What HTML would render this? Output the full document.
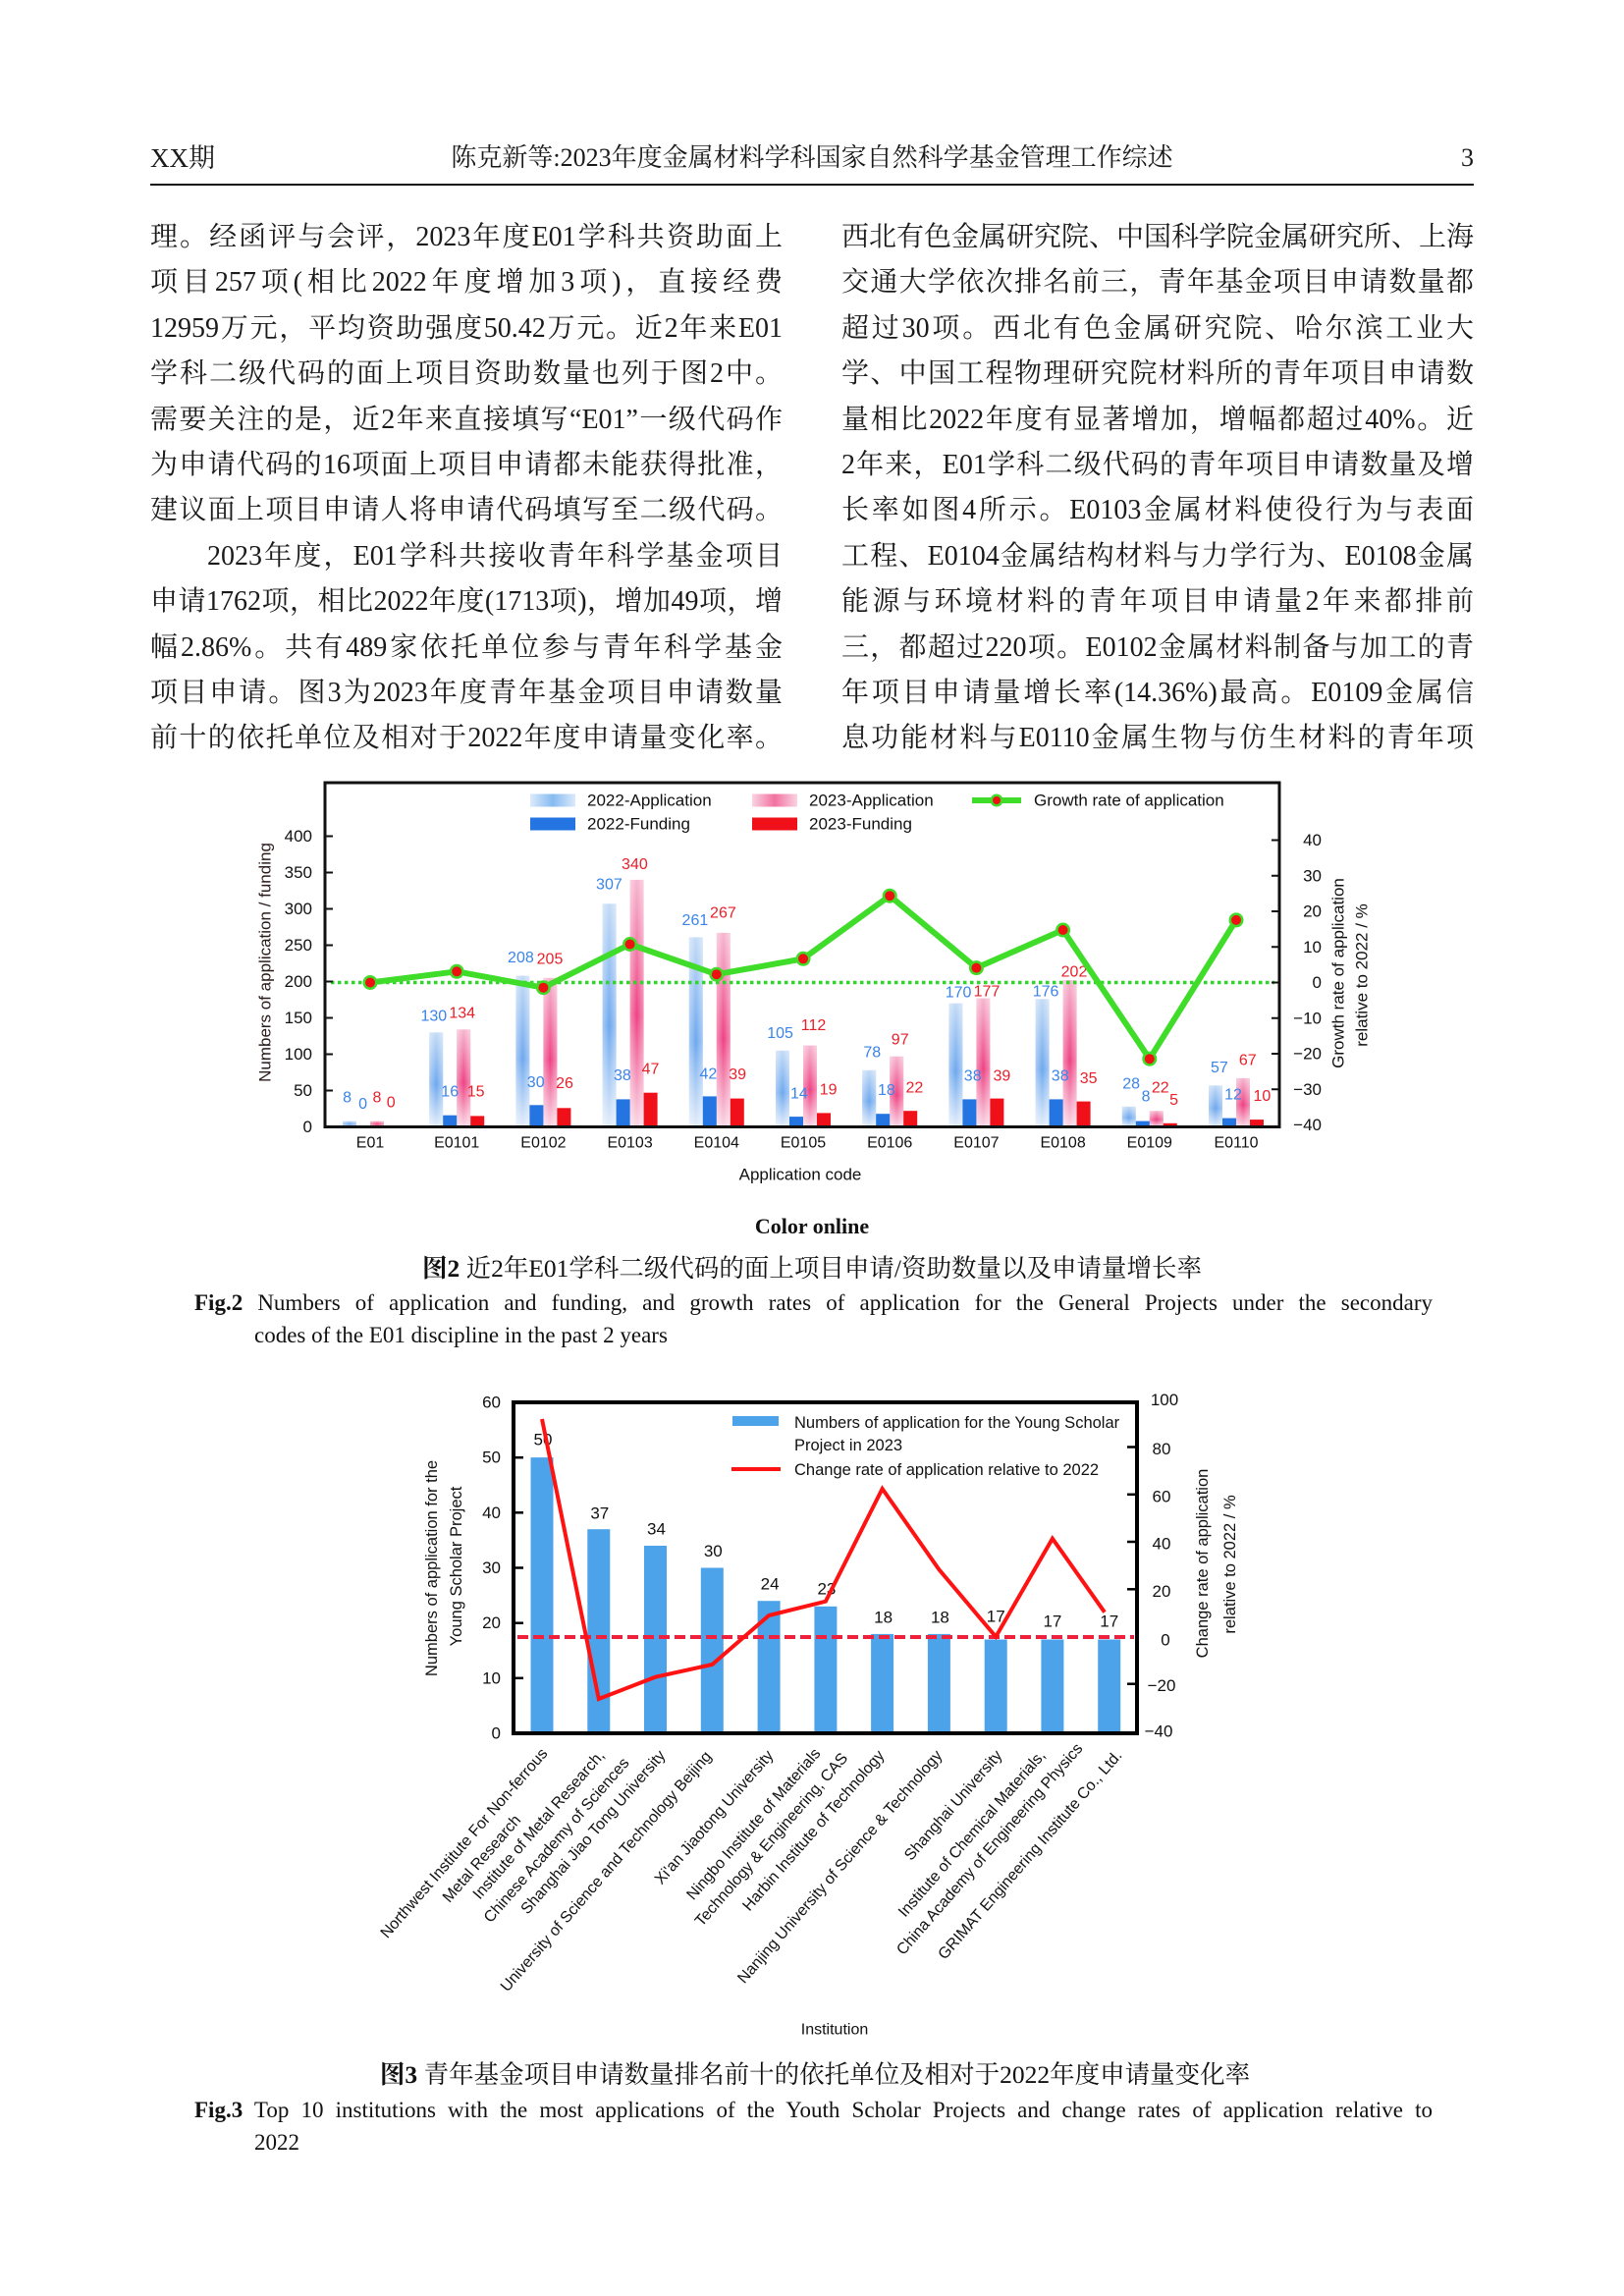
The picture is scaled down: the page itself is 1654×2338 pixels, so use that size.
<!DOCTYPE html>
<html lang="zh-CN"><head><meta charset="utf-8"><title>page</title>
<style>
html,body{margin:0;padding:0;background:#fff;}
#pg{position:relative;width:1654px;height:2338px;overflow:hidden;background:#fff;font-family:"Liberation Serif","Noto Serif CJK SC",serif;color:#1a1a1a;}
.ln{position:absolute;height:40px;line-height:40px;font-size:28px;white-space:nowrap;text-align:justify;text-align-last:justify;}
.c1{left:153px;width:644px}
.c2{left:857px;width:644px}
.hd{position:absolute;top:143px;height:36px;line-height:36px;font-size:26px;white-space:nowrap;}
.cap{position:absolute;white-space:nowrap;font-family:"Liberation Serif","Noto Serif CJK SC",serif;color:#111;}
svg{position:absolute;left:0;top:0}
svg text{font-family:"Liberation Sans",Arial,sans-serif;}
</style></head><body><div id="pg">

<div class="hd" style="left:153px;font-size:27px">XX期</div>
<div class="hd" style="left:153px;width:1348px;text-align:center">陈克新等:2023年度金属材料学科国家自然科学基金管理工作综述</div>
<div class="hd" style="left:1401px;width:100px;text-align:right">3</div>
<div style="position:absolute;left:153px;top:187px;width:1348px;height:2px;background:#111"></div>

<div class="ln c1" style="top:222px">理。经函评与会评，2023年度E01学科共资助面上</div>
<div class="ln c1" style="top:268.4px">项目257项(相比2022年度增加3项)，直接经费</div>
<div class="ln c1" style="top:314.8px">12959万元，平均资助强度50.42万元。近2年来E01</div>
<div class="ln c1" style="top:361.2px">学科二级代码的面上项目资助数量也列于图2中。</div>
<div class="ln c1" style="top:407.6px">需要关注的是，近2年来直接填写“E01”一级代码作</div>
<div class="ln c1" style="top:454px">为申请代码的16项面上项目申请都未能获得批准，</div>
<div class="ln c1" style="top:500.4px">建议面上项目申请人将申请代码填写至二级代码。</div>
<div class="ln" style="top:546.8px;left:211px;width:586px">2023年度，E01学科共接收青年科学基金项目</div>
<div class="ln c1" style="top:593.2px">申请1762项，相比2022年度(1713项)，增加49项，增</div>
<div class="ln c1" style="top:639.6px">幅2.86%。共有489家依托单位参与青年科学基金</div>
<div class="ln c1" style="top:686px">项目申请。图3为2023年度青年基金项目申请数量</div>
<div class="ln c1" style="top:732.4px">前十的依托单位及相对于2022年度申请量变化率。</div>

<div class="ln c2" style="top:222px">西北有色金属研究院、中国科学院金属研究所、上海</div>
<div class="ln c2" style="top:268.4px">交通大学依次排名前三，青年基金项目申请数量都</div>
<div class="ln c2" style="top:314.8px">超过30项。西北有色金属研究院、哈尔滨工业大</div>
<div class="ln c2" style="top:361.2px">学、中国工程物理研究院材料所的青年项目申请数</div>
<div class="ln c2" style="top:407.6px">量相比2022年度有显著增加，增幅都超过40%。近</div>
<div class="ln c2" style="top:454px">2年来，E01学科二级代码的青年项目申请数量及增</div>
<div class="ln c2" style="top:500.4px">长率如图4所示。E0103金属材料使役行为与表面</div>
<div class="ln c2" style="top:546.8px">工程、E0104金属结构材料与力学行为、E0108金属</div>
<div class="ln c2" style="top:593.2px">能源与环境材料的青年项目申请量2年来都排前</div>
<div class="ln c2" style="top:639.6px">三，都超过220项。E0102金属材料制备与加工的青</div>
<div class="ln c2" style="top:686px">年项目申请量增长率(14.36%)最高。E0109金属信</div>
<div class="ln c2" style="top:732.4px">息功能材料与E0110金属生物与仿生材料的青年项</div>

<!-- captions fig2 -->
<div class="cap" style="left:627px;width:400px;text-align:center;top:1235px;line-height:28px;font-size:22px;font-weight:bold">Color online</div>
<div class="cap" style="left:327px;width:1000px;text-align:center;top:1277px;line-height:30px;font-size:25.5px"><b>图2</b> 近2年E01学科二级代码的面上项目申请/资助数量以及申请量增长率</div>
<div class="cap" style="left:198px;width:1261px;top:1312px;line-height:30px;font-size:23px;text-align:justify;text-align-last:justify"><b>Fig.2</b> Numbers of application and funding, and growth rates of application for the General Projects under the secondary</div>
<div class="cap" style="left:259px;top:1345px;line-height:30px;font-size:23px">codes of the E01 discipline in the past 2 years</div>

<!-- captions fig3 -->
<div class="cap" style="left:230px;width:1200px;text-align:center;top:2098px;line-height:30px;font-size:25.5px"><b>图3</b> 青年基金项目申请数量排名前十的依托单位及相对于2022年度申请量变化率</div>
<div class="cap" style="left:198px;width:1261px;top:2134px;line-height:30px;font-size:23px;text-align:justify;text-align-last:justify"><b>Fig.3</b> Top 10 institutions with the most applications of the Youth Scholar Projects and change rates of application relative to</div>
<div class="cap" style="left:259px;top:2167px;line-height:30px;font-size:23px">2022</div>

<svg width="1654" height="2338" viewBox="0 0 1654 2338" xmlns="http://www.w3.org/2000/svg">
<defs>
<linearGradient id="gB" x1="0" y1="0" x2="0" y2="1">
<stop offset="0" stop-color="#c4dbf6"/><stop offset="0.55" stop-color="#6ea8ee"/><stop offset="1" stop-color="#e4eefb"/>
</linearGradient>
<linearGradient id="gP" x1="0" y1="0" x2="0" y2="1">
<stop offset="0" stop-color="#f6b6cf"/><stop offset="0.55" stop-color="#ee4283"/><stop offset="1" stop-color="#fad9e6"/>
</linearGradient>
<linearGradient id="gH" x1="0" y1="0" x2="1" y2="0">
<stop offset="0" stop-color="#fff" stop-opacity="0.4"/><stop offset="0.5" stop-color="#fff" stop-opacity="0"/><stop offset="1" stop-color="#fff" stop-opacity="0.4"/>
</linearGradient>
<linearGradient id="gBL" x1="0" y1="0" x2="1" y2="0">
<stop offset="0" stop-color="#dbeafb"/><stop offset="0.5" stop-color="#86bbf1"/><stop offset="1" stop-color="#dbeafb"/>
</linearGradient>
<linearGradient id="gPL" x1="0" y1="0" x2="1" y2="0">
<stop offset="0" stop-color="#fad3e2"/><stop offset="0.5" stop-color="#f271a0"/><stop offset="1" stop-color="#fad3e2"/>
</linearGradient>
</defs>

<!-- ================= FIG 2 ================= -->
<g>
<g fill="url(#gB)">
<rect x="349" y="1141.6" width="14" height="5.9"/>
<rect x="437.2" y="1051.3" width="14" height="96.2"/>
<rect x="525.4" y="993.6" width="14" height="153.9"/>
<rect x="613.6" y="920.3" width="14" height="227.2"/>
<rect x="701.8" y="954.4" width="14" height="193.1"/>
<rect x="790" y="1069.8" width="14" height="77.7"/>
<rect x="878.2" y="1089.8" width="14" height="57.7"/>
<rect x="966.4" y="1021.7" width="14" height="125.8"/>
<rect x="1054.6" y="1017.3" width="14" height="130.2"/>
<rect x="1142.8" y="1126.8" width="14" height="20.7"/>
<rect x="1231" y="1105.3" width="14" height="42.2"/>
</g>
<g fill="url(#gP)">
<rect x="377" y="1141.6" width="14" height="5.9"/>
<rect x="465.2" y="1048.3" width="14" height="99.2"/>
<rect x="553.4" y="995.8" width="14" height="151.7"/>
<rect x="641.6" y="895.9" width="14" height="251.6"/>
<rect x="729.8" y="949.9" width="14" height="197.6"/>
<rect x="818" y="1064.6" width="14" height="82.9"/>
<rect x="906.2" y="1075.7" width="14" height="71.8"/>
<rect x="994.4" y="1016.5" width="14" height="131"/>
<rect x="1082.6" y="998" width="14" height="149.5"/>
<rect x="1170.8" y="1131.2" width="14" height="16.3"/>
<rect x="1259" y="1097.9" width="14" height="49.6"/>
</g>
<g fill="url(#gH)">
<rect x="349" y="1141.6" width="14" height="5.9"/>
<rect x="437.2" y="1051.3" width="14" height="96.2"/>
<rect x="525.4" y="993.6" width="14" height="153.9"/>
<rect x="613.6" y="920.3" width="14" height="227.2"/>
<rect x="701.8" y="954.4" width="14" height="193.1"/>
<rect x="790" y="1069.8" width="14" height="77.7"/>
<rect x="878.2" y="1089.8" width="14" height="57.7"/>
<rect x="966.4" y="1021.7" width="14" height="125.8"/>
<rect x="1054.6" y="1017.3" width="14" height="130.2"/>
<rect x="1142.8" y="1126.8" width="14" height="20.7"/>
<rect x="1231" y="1105.3" width="14" height="42.2"/>
<rect x="377" y="1141.6" width="14" height="5.9"/>
<rect x="465.2" y="1048.3" width="14" height="99.2"/>
<rect x="553.4" y="995.8" width="14" height="151.7"/>
<rect x="641.6" y="895.9" width="14" height="251.6"/>
<rect x="729.8" y="949.9" width="14" height="197.6"/>
<rect x="818" y="1064.6" width="14" height="82.9"/>
<rect x="906.2" y="1075.7" width="14" height="71.8"/>
<rect x="994.4" y="1016.5" width="14" height="131"/>
<rect x="1082.6" y="998" width="14" height="149.5"/>
<rect x="1170.8" y="1131.2" width="14" height="16.3"/>
<rect x="1259" y="1097.9" width="14" height="49.6"/>
</g>
<g fill="#2474e2">
<rect x="451.2" y="1135.7" width="14" height="11.8"/>
<rect x="539.4" y="1125.3" width="14" height="22.2"/>
<rect x="627.6" y="1119.4" width="14" height="28.1"/>
<rect x="715.8" y="1116.4" width="14" height="31.1"/>
<rect x="804" y="1137.1" width="14" height="10.4"/>
<rect x="892.2" y="1134.2" width="14" height="13.3"/>
<rect x="980.4" y="1119.4" width="14" height="28.1"/>
<rect x="1068.6" y="1119.4" width="14" height="28.1"/>
<rect x="1156.8" y="1141.6" width="14" height="5.9"/>
<rect x="1245" y="1138.6" width="14" height="8.9"/>
</g>
<g fill="#f0101a">
<rect x="479.2" y="1136.4" width="14" height="11.1"/>
<rect x="567.4" y="1128.3" width="14" height="19.2"/>
<rect x="655.6" y="1112.7" width="14" height="34.8"/>
<rect x="743.8" y="1118.6" width="14" height="28.9"/>
<rect x="832" y="1133.4" width="14" height="14.1"/>
<rect x="920.2" y="1131.2" width="14" height="16.3"/>
<rect x="1008.4" y="1118.6" width="14" height="28.9"/>
<rect x="1096.6" y="1121.6" width="14" height="25.9"/>
<rect x="1184.8" y="1143.8" width="14" height="3.7"/>
<rect x="1273" y="1140.1" width="14" height="7.4"/>
</g>

<g font-size="16" text-anchor="middle" dominant-baseline="central" fill="#3a84ea">
<text x="353.6" y="1117.8">8</text><text x="369.6" y="1124.5">0</text>
<text x="441.8" y="1035.1">130</text><text x="458.2" y="1112.2">16</text>
<text x="530.4" y="975.5">208</text><text x="545.7" y="1102.3">30</text>
<text x="620.4" y="901">307</text><text x="633.9" y="1095.7">38</text>
<text x="707.9" y="937.4">261</text><text x="721.4" y="1094">42</text>
<text x="794.6" y="1052.6">105</text><text x="813.9" y="1113.9">14</text>
<text x="888.3" y="1071.8">78</text><text x="902.9" y="1110.5">18</text>
<text x="976.1" y="1011.1">170</text><text x="990.7" y="1096">38</text>
<text x="1065.1" y="1009.8">176</text><text x="1079.7" y="1096">38</text>
<text x="1152.1" y="1103.9">28</text><text x="1167.1" y="1117.2">8</text>
<text x="1241.9" y="1087.3">57</text><text x="1256" y="1114.8">12</text>
</g>
<g font-size="16" text-anchor="middle" dominant-baseline="central" fill="#e8202a">
<text x="383.9" y="1117.8">8</text><text x="398.2" y="1122.8">0</text>
<text x="470.7" y="1031.8">134</text><text x="484.6" y="1112.2">15</text>
<text x="560" y="977.1">205</text><text x="575" y="1103.6">26</text>
<text x="646.4" y="880.4">340</text><text x="662.5" y="1089">47</text>
<text x="736.4" y="930.1">267</text><text x="751.1" y="1094.7">39</text>
<text x="828.5" y="1044.3">112</text><text x="843.6" y="1109.9">19</text>
<text x="916.7" y="1059.2">97</text><text x="931.4" y="1108.2">22</text>
<text x="1005" y="1009.8">177</text><text x="1020.4" y="1096">39</text>
<text x="1094" y="990">202</text><text x="1108.6" y="1098.3">35</text>
<text x="1181.8" y="1108.2">22</text><text x="1195.6" y="1120.5">5</text>
<text x="1270.8" y="1080">67</text><text x="1285.4" y="1116.5">10</text>
</g>

<line x1="337" y1="1000.5" x2="1298" y2="1000.5" stroke="#2fd62a" stroke-width="3.5" stroke-dasharray="3.5 3.5"/>
<polyline fill="none" stroke="#3fdc2a" stroke-width="6" stroke-linejoin="round" points="377,1000.5 465.2,989.3 553.4,1005.7 641.6,961.5 729.8,992.2 818,976.3 906.2,912.2 994.4,985.6 1082.6,947 1170.8,1078.2 1259,936.9"/>
<g fill="#3fdc2a">
<circle cx="377" cy="1000.5" r="7.5"/><circle cx="465.2" cy="989.3" r="7.5"/><circle cx="553.4" cy="1005.7" r="7.5"/><circle cx="641.6" cy="961.5" r="7.5"/><circle cx="729.8" cy="992.2" r="7.5"/><circle cx="818" cy="976.3" r="7.5"/><circle cx="906.2" cy="912.2" r="7.5"/><circle cx="994.4" cy="985.6" r="7.5"/><circle cx="1082.6" cy="947" r="7.5"/><circle cx="1170.8" cy="1078.2" r="7.5"/><circle cx="1259" cy="936.9" r="7.5"/>
</g>
<g fill="#ee1111">
<circle cx="377" cy="1000.5" r="5"/><circle cx="465.2" cy="989.3" r="5"/><circle cx="553.4" cy="1005.7" r="5"/><circle cx="641.6" cy="961.5" r="5"/><circle cx="729.8" cy="992.2" r="5"/><circle cx="818" cy="976.3" r="5"/><circle cx="906.2" cy="912.2" r="5"/><circle cx="994.4" cy="985.6" r="5"/><circle cx="1082.6" cy="947" r="5"/><circle cx="1170.8" cy="1078.2" r="5"/><circle cx="1259" cy="936.9" r="5"/>
</g>

<rect x="540" y="808.5" width="46" height="13" fill="url(#gBL)"/>
<rect x="540" y="832.5" width="46" height="13" fill="#2474e2"/>
<rect x="766" y="808.5" width="46" height="13" fill="url(#gPL)"/>
<rect x="766" y="832.5" width="46" height="13" fill="#f0101a"/>
<line x1="990" y1="815" x2="1040" y2="815" stroke="#3fdc2a" stroke-width="6"/>
<circle cx="1015" cy="815" r="6.5" fill="#3fdc2a"/><circle cx="1015" cy="815" r="4" fill="#ee1111"/>
<g font-size="17" dominant-baseline="central" fill="#111">
<text x="598" y="815">2022-Application</text>
<text x="598" y="839">2022-Funding</text>
<text x="824" y="815">2023-Application</text>
<text x="824" y="839">2023-Funding</text>
<text x="1053" y="815">Growth rate of application</text>
</g>

<rect x="331" y="797" width="972" height="350.5" fill="none" stroke="#111" stroke-width="3"/>
<g stroke="#111" stroke-width="2">
<line x1="331" y1="1110.5" x2="339" y2="1110.5"/><line x1="331" y1="1073.5" x2="339" y2="1073.5"/><line x1="331" y1="1036.5" x2="339" y2="1036.5"/><line x1="331" y1="999.5" x2="339" y2="999.5"/><line x1="331" y1="962.5" x2="339" y2="962.5"/><line x1="331" y1="925.5" x2="339" y2="925.5"/><line x1="331" y1="888.5" x2="339" y2="888.5"/><line x1="331" y1="851.5" x2="339" y2="851.5"/>
<line x1="1295" y1="855.5" x2="1303" y2="855.5"/><line x1="1295" y1="891.75" x2="1303" y2="891.75"/><line x1="1295" y1="928" x2="1303" y2="928"/><line x1="1295" y1="964.25" x2="1303" y2="964.25"/><line x1="1295" y1="1000.5" x2="1303" y2="1000.5"/><line x1="1295" y1="1036.75" x2="1303" y2="1036.75"/><line x1="1295" y1="1073" x2="1303" y2="1073"/><line x1="1295" y1="1109.25" x2="1303" y2="1109.25"/>
</g>
<g font-size="17" text-anchor="end" dominant-baseline="central" fill="#111">
<text x="318" y="1147.5">0</text><text x="318" y="1110.5">50</text><text x="318" y="1073.5">100</text><text x="318" y="1036.5">150</text><text x="318" y="999.5">200</text><text x="318" y="962.5">250</text><text x="318" y="925.5">300</text><text x="318" y="888.5">350</text><text x="318" y="851.5">400</text>
<text x="1346" y="855.5">40</text><text x="1346" y="891.75">30</text><text x="1346" y="928">20</text><text x="1346" y="964.25">10</text><text x="1346" y="1000.5">0</text><text x="1346" y="1036.75">−10</text><text x="1346" y="1073">−20</text><text x="1346" y="1109.25">−30</text><text x="1346" y="1145.5">−40</text>
</g>
<g font-size="16" text-anchor="middle" dominant-baseline="central" fill="#111">
<text x="377" y="1164">E01</text><text x="465.2" y="1164">E0101</text><text x="553.4" y="1164">E0102</text><text x="641.6" y="1164">E0103</text><text x="729.8" y="1164">E0104</text><text x="818" y="1164">E0105</text><text x="906.2" y="1164">E0106</text><text x="994.4" y="1164">E0107</text><text x="1082.6" y="1164">E0108</text><text x="1170.8" y="1164">E0109</text><text x="1259" y="1164">E0110</text>
</g>
<text x="815" y="1196" font-size="17" text-anchor="middle" dominant-baseline="central" fill="#111">Application code</text>
<text transform="translate(270,980) rotate(-90)" font-size="17" text-anchor="middle" dominant-baseline="central" fill="#2a1a1a">Numbers of application / funding</text>
<text transform="translate(1363,991) rotate(-90)" font-size="17" text-anchor="middle" dominant-baseline="central" fill="#111">Growth rate of application</text>
<text transform="translate(1387,993) rotate(-90)" font-size="17" text-anchor="middle" dominant-baseline="central" fill="#111">relative to 2022 / %</text>
</g>

<!-- ================= FIG 3 ================= -->
<g>
<g fill="#4da3ea">
<rect x="540.5" y="1484.1" width="23" height="280.9"/>
<rect x="598.3" y="1557.2" width="23" height="207.8"/>
<rect x="656" y="1574" width="23" height="191"/>
<rect x="713.8" y="1596.5" width="23" height="168.5"/>
<rect x="771.6" y="1630.2" width="23" height="134.8"/>
<rect x="829.4" y="1635.8" width="23" height="129.2"/>
<rect x="887.1" y="1663.9" width="23" height="101.1"/>
<rect x="944.9" y="1663.9" width="23" height="101.1"/>
<rect x="1002.7" y="1669.5" width="23" height="95.5"/>
<rect x="1060.4" y="1669.5" width="23" height="95.5"/>
<rect x="1118.2" y="1669.5" width="23" height="95.5"/>
</g>
<g font-size="17" text-anchor="middle" dominant-baseline="central" fill="#111">
<text x="553" y="1466">50</text><text x="610.8" y="1541">37</text><text x="668.5" y="1557">34</text><text x="726.3" y="1579.5">30</text><text x="784.1" y="1613">24</text><text x="841.9" y="1618">23</text><text x="899.6" y="1647">18</text><text x="957.4" y="1647">18</text><text x="1014.2" y="1646">17</text><text x="1071.9" y="1651">17</text><text x="1129.7" y="1651">17</text>
</g>
<line x1="527" y1="1667" x2="1155" y2="1667" stroke="#f0203c" stroke-width="4" stroke-dasharray="11 5"/>
<polyline fill="none" stroke="#ff1212" stroke-width="4" points="552,1445 609.8,1730 667.5,1707.7 725.3,1695 783.1,1645 840.9,1630.7 898.6,1516 956.4,1598.3 1014.2,1666.7 1071.9,1566.7 1125,1641.7"/>
<rect x="746" y="1442" width="47" height="10" fill="#4da3ea"/>
<line x1="745" y1="1496" x2="795" y2="1496" stroke="#ff1212" stroke-width="4"/>
<g font-size="16.5" dominant-baseline="central" fill="#111">
<text x="809" y="1449">Numbers of application for the Young Scholar</text>
<text x="809" y="1472">Project in 2023</text>
<text x="809" y="1497">Change rate of application relative to 2022</text>
</g>
<rect x="523" y="1428" width="635" height="337" fill="none" stroke="#000" stroke-width="4"/>
<g stroke="#000" stroke-width="2.5">
<line x1="523" y1="1708.8" x2="533" y2="1708.8"/><line x1="523" y1="1652.7" x2="533" y2="1652.7"/><line x1="523" y1="1596.5" x2="533" y2="1596.5"/><line x1="523" y1="1540.3" x2="533" y2="1540.3"/><line x1="523" y1="1484.2" x2="533" y2="1484.2"/>
<line x1="1148" y1="1473.5" x2="1158" y2="1473.5"/><line x1="1148" y1="1521.8" x2="1158" y2="1521.8"/><line x1="1148" y1="1570" x2="1158" y2="1570"/><line x1="1148" y1="1618.3" x2="1158" y2="1618.3"/><line x1="1148" y1="1714.7" x2="1158" y2="1714.7"/>
</g>
<g font-size="17" text-anchor="end" dominant-baseline="central" fill="#111">
<text x="510" y="1765">0</text><text x="510" y="1708.8">10</text><text x="510" y="1652.7">20</text><text x="510" y="1596.5">30</text><text x="510" y="1540.3">40</text><text x="510" y="1484.2">50</text><text x="510" y="1428">60</text>
</g>
<g font-size="17" text-anchor="middle" dominant-baseline="central" fill="#111">
<text x="1186" y="1425.5">100</text><text x="1183" y="1475.5">80</text><text x="1183" y="1523.8">60</text><text x="1183" y="1572">40</text><text x="1183" y="1620.3">20</text><text x="1187" y="1670">0</text><text x="1183" y="1716.7">−20</text><text x="1180" y="1763">−40</text>
</g>
<text transform="translate(440,1597) rotate(-90)" font-size="16.5" text-anchor="middle" dominant-baseline="central" fill="#111">Numbers of application for the</text>
<text transform="translate(465,1595) rotate(-90)" font-size="16.5" text-anchor="middle" dominant-baseline="central" fill="#111">Young Scholar Project</text>
<text transform="translate(1225,1592) rotate(-90)" font-size="16.5" text-anchor="middle" dominant-baseline="central" fill="#111">Change rate of application</text>
<text transform="translate(1253,1593) rotate(-90)" font-size="16.5" text-anchor="middle" dominant-baseline="central" fill="#111">relative to 2022 / %</text>

<g font-size="16" dominant-baseline="central" fill="#111">
<g transform="translate(555,1783) rotate(-49)"><text text-anchor="end">Northwest Institute For Non-ferrous</text><text x="-125" y="24" text-anchor="middle">Metal Research</text></g>
<g transform="translate(613,1785) rotate(-49)"><text text-anchor="end">Institute of Metal Research,</text><text x="-97.4" y="24" text-anchor="middle">Chinese Academy of Sciences</text></g>
<g transform="translate(675,1785) rotate(-49)"><text text-anchor="end">Shanghai Jiao Tong University</text></g>
<g transform="translate(722,1786) rotate(-49)"><text text-anchor="end">University of Science and Technology Beijing</text></g>
<g transform="translate(785,1785) rotate(-49)"><text text-anchor="end">Xi'an Jiaotong University</text></g>
<g transform="translate(833,1783) rotate(-49)"><text text-anchor="end">Ningbo Institute of Materials</text><text x="-99.2" y="24" text-anchor="middle">Technology &amp; Engineering, CAS</text></g>
<g transform="translate(898,1785) rotate(-49)"><text text-anchor="end">Harbin Institute of Technology</text></g>
<g transform="translate(957,1785) rotate(-49)"><text text-anchor="end">Nanjing University of Science &amp; Technology</text></g>
<g transform="translate(1018,1785) rotate(-49)"><text text-anchor="end">Shanghai University</text></g>
<g transform="translate(1062,1785) rotate(-49)"><text text-anchor="end">Institute of Chemical Materials,</text><text x="-109.4" y="24" text-anchor="middle">China Academy of Engineering Physics</text></g>
<g transform="translate(1140,1785) rotate(-49)"><text text-anchor="end">GRIMAT Engineering Institute Co., Ltd.</text></g>
</g>
<text x="850" y="2067" font-size="16" text-anchor="middle" dominant-baseline="central" fill="#111">Institution</text>
</g>
</svg>
</div></body></html>
